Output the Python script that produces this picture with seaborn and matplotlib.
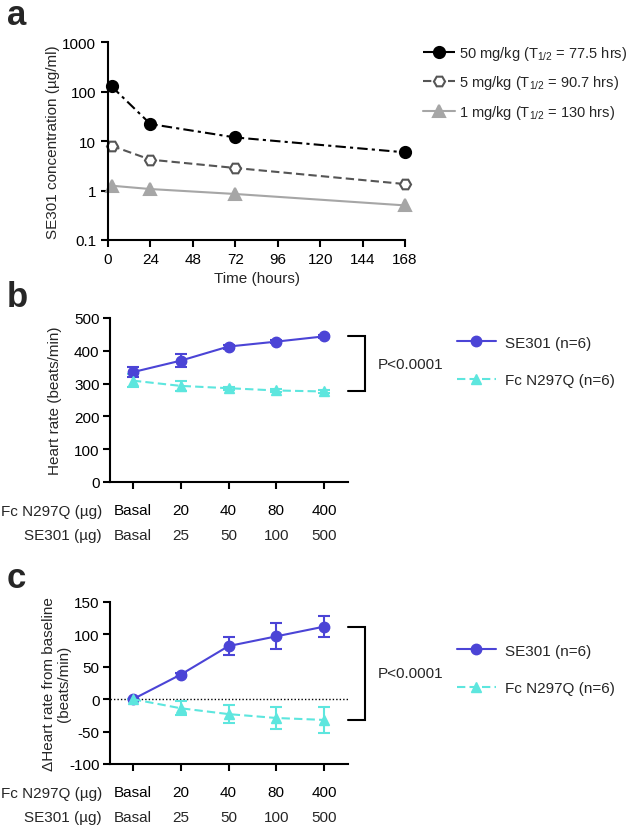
import pandas as pd
import seaborn as sns
import matplotlib.pyplot as plt
from matplotlib.transforms import offset_copy

# ---- panel a: serum concentration (log scale)
time_h = [2, 24, 72, 168]
conc_50 = [127, 22, 11.8, 5.9]
conc_5 = [8.0, 4.2, 2.85, 1.35]
conc_1 = [1.25, 1.07, 0.85, 0.5]
pk_groups = ['50 mg/kg (T$_{\\mathrm{1/2}}$ = 77.5 hrs)',
             '5 mg/kg (T$_{\\mathrm{1/2}}$ = 90.7 hrs)',
             '1 mg/kg (T$_{\\mathrm{1/2}}$ = 130 hrs)']
pk_colors = ['black', '#555555', '#a6a6a6']

# ---- panels b/c: heart rate
fc_doses = ['Basal', '20', '40', '80', '400']
se_doses = ['Basal', '25', '50', '100', '500']
hr_groups = ['SE301 (n=6)', 'Fc N297Q (n=6)']
hr_colors = ['#4b44d6', '#5de6de']
hr_se = [335, 370, 413, 428, 444]
hr_se_err = [16, 19, 6, 5, 5]
hr_fc = [309, 293, 286, 279, 276]
hr_fc_err = [19, 16, 5, 4, 4]
dhr_se = [0, 38, 82, 97, 112]
dhr_se_err = [0, 3, 14, 20, 16]
dhr_fc = [0, -14, -23, -29, -32]
dhr_fc_err = [0, 11, 14, 17, 20]

sns.set_style('ticks')
plt.rcParams['font.family'] = ['Liberation Sans', 'DejaVu Sans']
plt.rcParams['mathtext.fontset'] = 'custom'
plt.rcParams['mathtext.rm'] = 'Liberation Sans'
plt.rcParams['mathtext.it'] = 'Liberation Sans:italic'
plt.rcParams['axes.unicode_minus'] = False
plt.rcParams['font.size'] = 11
plt.rcParams['axes.linewidth'] = 1.5
for a in ['xtick', 'ytick']:
    plt.rcParams[a + '.major.width'] = 1.5
    plt.rcParams[a + '.major.size'] = 5
    plt.rcParams[a + '.labelsize'] = 11
    plt.rcParams[a + '.color'] = 'black'
plt.rcParams['axes.edgecolor'] = 'black'

W, H = 636, 829
fig = plt.figure(figsize=(W / 100, H / 100), dpi=100)


def px_axes(l, t, r, b):
    return fig.add_axes([l / W, 1 - b / H, (r - l) / W, (b - t) / H])


# ---------------- a
ax = px_axes(108, 43, 405, 241)
pk = pd.DataFrame({
    'time': time_h * 3,
    'conc': conc_50 + conc_5 + conc_1,
    'dose': [g for g in pk_groups for _ in time_h],
})
sns.lineplot(data=pk, x='time', y='conc', hue='dose', style='dose',
             palette=dict(zip(pk_groups, pk_colors)),
             markers=dict(zip(pk_groups, ['o', 'H', '^'])),
             dashes=dict(zip(pk_groups, [(5, 2, 1.5, 2), (4, 2), ''])),
             markersize=8, linewidth=1.5, legend=False, ax=ax, clip_on=False)
lines = ax.get_lines()[:3]
for ln, c in zip(lines, pk_colors):
    ln.set_markeredgecolor(c)
    ln.set_markeredgewidth(1.5)
lines[1].set_markerfacecolor('white')
ax.set_yscale('log')
ax.set_ylim(0.1, 1000)
ax.set_yticks([0.1, 1, 10, 100, 1000])
ax.set_yticklabels(['0.1', '1', '10', '100', '1000'])
ax.minorticks_off()
ax.set_xlim(0, 168)
ax.set_xticks(range(0, 169, 24))
ax.set_xlabel('Time (hours)', labelpad=4)
ax.set_ylabel('SE301 concentration (µg/ml)')
ax.yaxis.set_label_coords(-0.16, 0.5)
sns.despine(ax=ax)
ax.legend(lines, pk_groups, loc='center left',
          bbox_to_anchor=(423 / W, 1 - 83.5 / H), bbox_transform=fig.transFigure,
          frameon=False, borderpad=0, borderaxespad=0,
          handlelength=2.2, handletextpad=0.3, labelspacing=0.8, fontsize=10.5)
fig.text(7 / W, 1 - 25 / H, 'a', fontsize=25, fontweight='bold', va='baseline')


# ---------------- b / c
def hr_panel(top, bottom, se, se_err, fc, fc_err, ylim, yticks, ylabel, ycoord,
             label, label_y, leg_y):
    ax = px_axes(110, top, 348, bottom)
    pos = list(range(len(fc_doses)))
    df = pd.DataFrame({'pos': pos * 2, 'val': se + fc,
                       'group': [g for g in hr_groups for _ in pos]})
    sns.lineplot(data=df, x='pos', y='val', hue='group', style='group',
                 palette=dict(zip(hr_groups, hr_colors)),
                 markers=dict(zip(hr_groups, ['o', '^'])),
                 dashes=dict(zip(hr_groups, ['', (4, 2)])),
                 markersize=7.5, linewidth=1.5, legend=False, ax=ax, zorder=3)
    lines = ax.get_lines()[:2]
    for ln, c in zip(lines, hr_colors):
        ln.set_markeredgecolor(c)
        ln.set_markeredgewidth(1)
    for vals, errs, c in [(se, se_err, hr_colors[0]), (fc, fc_err, hr_colors[1])]:
        ax.errorbar(pos, vals, yerr=errs, fmt='none', ecolor=c, elinewidth=1.5,
                    capsize=4, capthick=1.5, zorder=2)
    ax.set_xlim(-0.48, 4.5)
    ax.set_ylim(*ylim)
    ax.set_yticks(yticks)
    ax.set_xticks(pos)
    ax.set_xticklabels(fc_doses)
    ax.tick_params(axis='x', pad=10)
    ax.tick_params(axis='y', pad=2.5)
    ax.set_xlabel('')
    ax.set_ylabel(ylabel, linespacing=1.1)
    ax.yaxis.set_label_coords(ycoord, 0.5)
    sns.despine(ax=ax)

    # second row of dose labels and row titles
    tr2 = offset_copy(ax.get_xaxis_transform(), fig=fig, y=-53, units='dots')
    for p, s in zip(pos, se_doses):
        ax.text(p, 0, s, transform=tr2, ha='center', va='center')
    for dy, s in [(-29, 'Fc N297Q (µg)'), (-53, 'SE301 (µg)')]:
        tr = offset_copy(ax.transAxes, fig=fig, x=-8, y=dy, units='dots')
        ax.text(0, 0, s, transform=tr, ha='right', va='center')

    # significance bracket between last points
    y1, y2 = se[-1], fc[-1]
    ax.plot([4.5, 4.86, 4.86, 4.5], [y1, y1, y2, y2], color='black', lw=1.5,
            clip_on=False, solid_joinstyle='miter')
    ax.text(5.12, (y1 + y2) / 2, 'P<0.0001', ha='left', va='center')

    ax.legend(lines, hr_groups, loc='center left',
              bbox_to_anchor=(457 / W, 1 - leg_y / H), bbox_transform=fig.transFigure,
              frameon=False, borderpad=0, borderaxespad=0,
              handlelength=2.55, handletextpad=0.6, labelspacing=1.55, fontsize=11)
    fig.text(7 / W, 1 - label_y / H, label, fontsize=25, fontweight='bold',
             va='baseline')
    return ax


hr_panel(319, 483, hr_se, hr_se_err, hr_fc, hr_fc_err, (0, 500),
         range(0, 501, 100), 'Heart rate (beats/min)', -0.2, 'b', 307, 362.5)
axc = hr_panel(603, 765, dhr_se, dhr_se_err, dhr_fc, dhr_fc_err, (-100, 150),
               range(-100, 151, 50), 'ΔHeart rate from baseline\n(beats/min)',
               -0.165, 'c', 588, 670.5)
axc.axhline(0, color='black', ls=(0, (1, 1.5)), lw=1, zorder=1)

fig.savefig('out.png', dpi=100)
